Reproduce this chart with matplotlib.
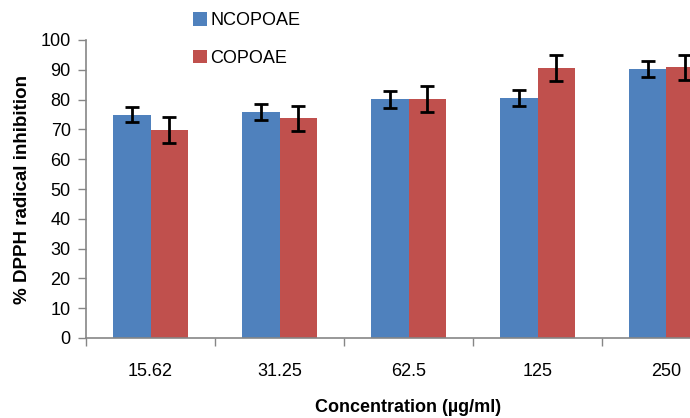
import matplotlib
matplotlib.use("Agg")
import matplotlib.pyplot as plt
import numpy as np

categories = ["15.62", "31.25", "62.5", "125", "250"]
ncopoae = [75.0, 75.8, 80.1, 80.4, 90.2]
ncopoae_err = [2.5, 2.7, 2.8, 2.7, 2.7]
copoae = [69.8, 73.8, 80.2, 90.5, 90.8]
copoae_err = [4.3, 4.2, 4.2, 4.3, 4.2]
series_names = ["NCOPOAE", "COPOAE"]
yticks = [0, 10, 20, 30, 40, 50, 60, 70, 80, 90, 100]

plt.rcParams['font.family'] = ['Liberation Sans', 'DejaVu Sans']

W, H = 690, 418
fig = plt.figure(figsize=(W/100, H/100), dpi=100)
left, right, top, bottom = 86, 731, 40, 338
ax = fig.add_axes([left/W, 1-bottom/H, (right-left)/W, (bottom-top)/H])

x = np.arange(len(categories))
bw = 0.29
blue = "#4F81BD"
red = "#C0504D"
ax.bar(x - bw/2, ncopoae, bw, color=blue, label=series_names[0])
ax.bar(x + bw/2, copoae, bw, color=red, label=series_names[1])
ax.errorbar(x - bw/2, ncopoae, yerr=ncopoae_err, fmt='none', ecolor='black', elinewidth=2, capsize=5, capthick=2)
ax.errorbar(x + bw/2, copoae, yerr=copoae_err, fmt='none', ecolor='black', elinewidth=2, capsize=5, capthick=2)

ax.set_xlim(-0.5, len(categories)-0.5)
ax.set_ylim(0, 100)
ax.set_yticks(yticks)
ax.set_xticks(np.arange(-0.5, len(categories), 1.0), minor=False)
ax.set_xticklabels([])
ax.set_xticks(x, minor=True)
ax.set_xticklabels(categories, minor=True)
ax.tick_params(axis='x', which='minor', length=0, pad=18, labelsize=13)
ax.tick_params(axis='x', which='major', length=6, color='#868686', width=1)
ax.tick_params(axis='y', length=6, color='#868686', width=1, labelsize=13, pad=5)
for s in ['top', 'right']:
    ax.spines[s].set_visible(False)
for s in ['left', 'bottom']:
    ax.spines[s].set_color('#868686')
    ax.spines[s].set_linewidth(1.2)

ax.set_ylabel("% DPPH radical inhibition", fontsize=13.5, fontweight='bold', labelpad=7)
ax.set_xlabel("Concentration (µg/ml)", fontsize=13, fontweight='bold', labelpad=14)

leg = fig.legend(loc='upper left', bbox_to_anchor=(177/W, 1+4/H), frameon=False,
                 fontsize=13, handlelength=0.75, handleheight=0.75, handletextpad=0.2,
                 labelspacing=1.15)

fig.savefig("out.png", dpi=100)
